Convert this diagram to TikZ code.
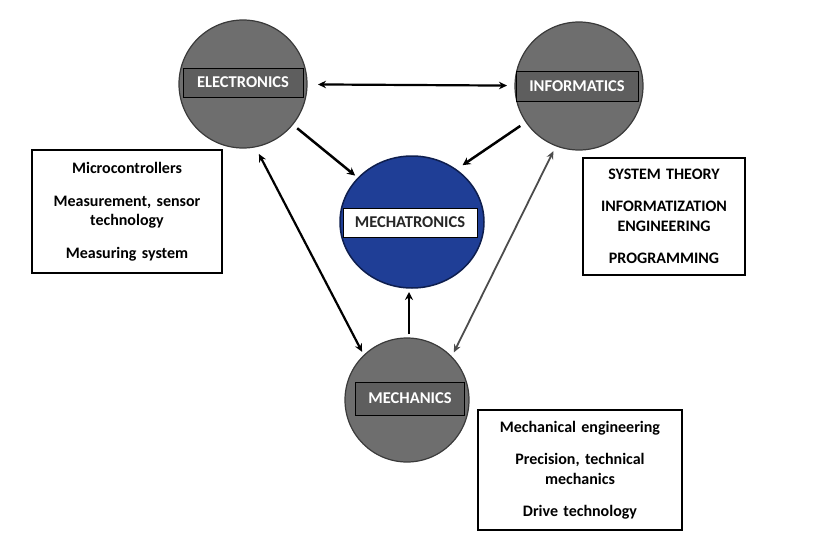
\documentclass[tikz,border=0pt]{standalone}
\usepackage{fontspec}
\setmainfont{Carlito}
\usetikzlibrary{arrows.meta,shapes.geometric}
\definecolor{cgray}{HTML}{6E6E6E}
\definecolor{cedge}{HTML}{3A3A3A}
\definecolor{lgray}{HTML}{5E5E5E}
\definecolor{mblue}{HTML}{1F3E96}
\definecolor{mnavy}{HTML}{0E1E4E}
\begin{document}
\begin{tikzpicture}[x=1pt,y=-1pt,
  gcirc/.style={circle,fill=cgray,draw=cedge,line width=1.2pt,minimum size=128pt,inner sep=0pt,outer sep=0pt},
  lbl/.style={rectangle,fill=lgray,draw=black,line width=0.8pt,text=white,font=\bfseries\fontsize{16.5}{18}\selectfont,inner sep=0pt},
  infobox/.style={rectangle,draw=black,line width=2pt,fill=white,align=center,inner sep=0pt,font=\bfseries\fontsize{16}{19.5}\selectfont},
  conn/.style={line width=2.2pt,{Stealth[length=8pt,width=7.5pt]}-{Stealth[length=8pt,width=7.5pt]}},
  oneway/.style={line width=2.5pt,-{Stealth[length=8pt,width=8pt]}}
]
\useasboundingbox (0,0) rectangle (828,533);
% circles
\node[gcirc] (el) at (243,84) {};
\node[lbl,minimum width=120pt,minimum height=29pt] (ellbl) at (243,82.5) {ELECTRONICS};
\node[gcirc] (inf) at (579,86) {};
\node[lbl,minimum width=122pt,minimum height=30pt] (inflbl) at (577,86) {INFORMATICS};
\node[ellipse,fill=mblue,draw=mnavy,line width=1.5pt,minimum width=144pt,minimum height=132pt,inner sep=0pt,outer sep=0pt] (mt) at (412,222) {};
\node[rectangle,fill=white,draw=black,line width=0.8pt,minimum width=134pt,minimum height=29pt,inner sep=0pt,font=\bfseries\fontsize{16.5}{18}\selectfont,text=black!85] (mtlbl) at (410,222.5) {MECHATRONICS};
\node[gcirc,minimum size=124pt] (me) at (407,400) {};
\node[lbl,minimum width=109pt,minimum height=33pt] (melbl) at (410,398.5) {MECHANICS};
% info boxes
\node[infobox,minimum width=190pt,minimum height=123pt,text width=190pt] (lb) at (127,211.5)
  {Microcontrollers\\[13pt]Measurement, sensor\\technology\\[13pt]Measuring system};
\node[infobox,minimum width=162pt,minimum height=117pt,text width=162pt] (rb) at (664,216.5)
  {SYSTEM THEORY\\[13pt]INFORMATIZATION\\ENGINEERING\\[13pt]PROGRAMMING};
\node[infobox,minimum width=204pt,minimum height=120pt,text width=204pt] (bb) at (580,470)
  {Mechanical engineering\\[13pt]Precision, technical\\mechanics\\[13pt]Drive technology};
% connectors
\draw[conn,shorten <=11pt,shorten >=8pt] (el) -- (inf);
\draw[oneway,shorten <=6pt,shorten >=4pt] (el) -- (mt);
\draw[oneway,shorten <=7pt,shorten >=8pt] (inf) -- (mt.50);
\draw[conn,shorten <=8pt,shorten >=4pt] (el.-79) -- (me.134);
\draw[line width=1.8pt,draw=black!70,{Stealth[length=8pt,width=7pt]}-{Stealth[length=8pt,width=7pt]},shorten <=6pt,shorten >=5pt] (inf.-111) -- (me.44);
\draw[oneway,shorten <=4pt,shorten >=4pt] ([xshift=2pt]me.north) -- ([xshift=2pt]me.north |- mt.south);
\end{tikzpicture}
\end{document}
